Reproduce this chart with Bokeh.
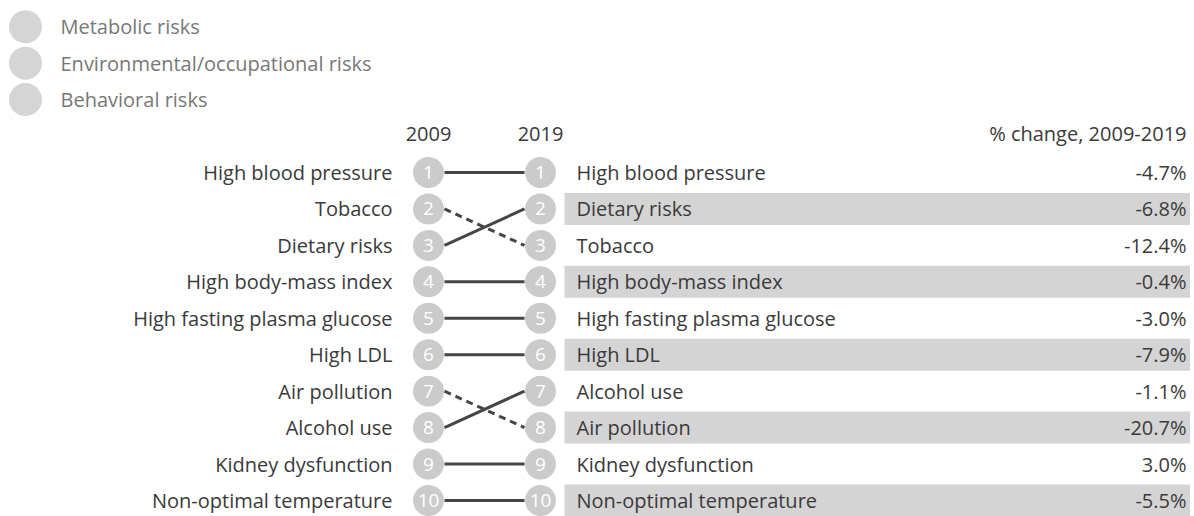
from bokeh.plotting import figure
from bokeh.models import Range1d
from bokeh.core.properties import value
from bokeh.embed import file_html
from bokeh.resources import INLINE

# ---- data ----
risks_2009 = ["High blood pressure", "Tobacco", "Dietary risks", "High body-mass index",
              "High fasting plasma glucose", "High LDL", "Air pollution", "Alcohol use",
              "Kidney dysfunction", "Non-optimal temperature"]
rank_2009 = [1, 2, 3, 4, 5, 6, 7, 8, 9, 10]
rank_2019 = [1, 3, 2, 4, 5, 6, 8, 7, 9, 10]
pct_change = [-4.7, -12.4, -6.8, -0.4, -3.0, -7.9, -20.7, -1.1, 3.0, -5.5]
legend_labels = ["Metabolic risks", "Environmental/occupational risks", "Behavioral risks"]
year_labels = ["2009", "2019"]
change_title = "% change, 2009-2019"

# ---- styling / layout constants ----
FONT = value("Open Sans")
FS = "20px"
W, H = 1190, 516
X09, X19 = 428, 540
LABEL_R = 392
RIGHT_L = 576
RIGHT_R = 1186
BAND_L = 564
CIRCLE = "#cbcbcb"
TXT = "#3a3a3a"

p = figure(width=W, height=H, output_backend="svg", toolbar_location=None,
           x_range=Range1d(0, W), y_range=Range1d(10.44, -3.72),
           min_border=0, min_border_left=0, min_border_right=0,
           min_border_top=0, min_border_bottom=0)
p.axis.visible = False
p.grid.visible = False
p.outline_line_color = None
p.background_fill_color = "white"
p.border_fill_color = "white"

# ---- right side bands (alternate rows in 2019 order) ----
band_ranks = [r for r in sorted(rank_2019) if r % 2 == 0]
p.quad(left=BAND_L, right=W + 10, top=[r - 0.44 for r in band_ranks],
       bottom=[r + 0.44 for r in band_ranks], fill_color="#d4d4d4", line_color=None)

# ---- connecting lines ----
for r0, r1 in zip(rank_2009, rank_2019):
    dash = "7 5" if r1 > r0 else "solid"
    p.line([X09 + 16, X19 - 16], [r0, r1], line_width=3, line_color="#454545",
           line_dash=dash)

# ---- circles ----
p.scatter(x=[X09] * len(rank_2009), y=rank_2009, size=31, fill_color=CIRCLE,
          line_color=None)
p.scatter(x=[X19] * len(rank_2019), y=rank_2019, size=31, fill_color=CIRCLE,
          line_color=None)
p.text(x=[X09] * len(rank_2009), y=rank_2009, text=[str(r) for r in rank_2009],
       text_font=FONT, text_font_size="19px", text_color="white", text_align="center",
       text_baseline="middle")
p.text(x=[X19] * len(rank_2019), y=rank_2019, text=[str(r) for r in rank_2019],
       text_font=FONT, text_font_size="19px", text_color="white", text_align="center",
       text_baseline="middle")

# ---- left labels ----
p.text(x=[LABEL_R] * len(risks_2009), y=rank_2009, text=risks_2009, text_font=FONT,
       text_font_size=FS, text_color=TXT, text_align="right", text_baseline="middle")

# ---- right labels & % change ----
pct_txt = [f"{v:.1f}%" for v in pct_change]
p.text(x=[RIGHT_L] * len(risks_2009), y=rank_2019, text=risks_2009, text_font=FONT,
       text_font_size=FS, text_color=TXT, text_align="left", text_baseline="middle")
p.text(x=[RIGHT_R] * len(risks_2009), y=rank_2019, text=pct_txt, text_font=FONT,
       text_font_size=FS, text_color=TXT, text_align="right", text_baseline="middle")

# ---- headers ----
p.text(x=[X09, X19], y=[-0.07, -0.07], text=year_labels, text_font=FONT,
       text_font_size=FS, text_color=TXT, text_align="center", text_baseline="middle")
p.text(x=[RIGHT_R], y=[-0.07], text=[change_title], text_font=FONT,
       text_font_size=FS, text_color=TXT, text_align="right", text_baseline="middle")

# ---- legend ----
leg_y = [-3, -2, -1]
p.scatter(x=[25] * 3, y=leg_y, size=33, fill_color="#d5d5d5", line_color=None)
p.text(x=[60] * 3, y=leg_y, text=legend_labels, text_font=FONT, text_font_size=FS,
       text_color="#777777", text_align="left", text_baseline="middle")

open("out.html", "w").write(file_html(p, INLINE))
